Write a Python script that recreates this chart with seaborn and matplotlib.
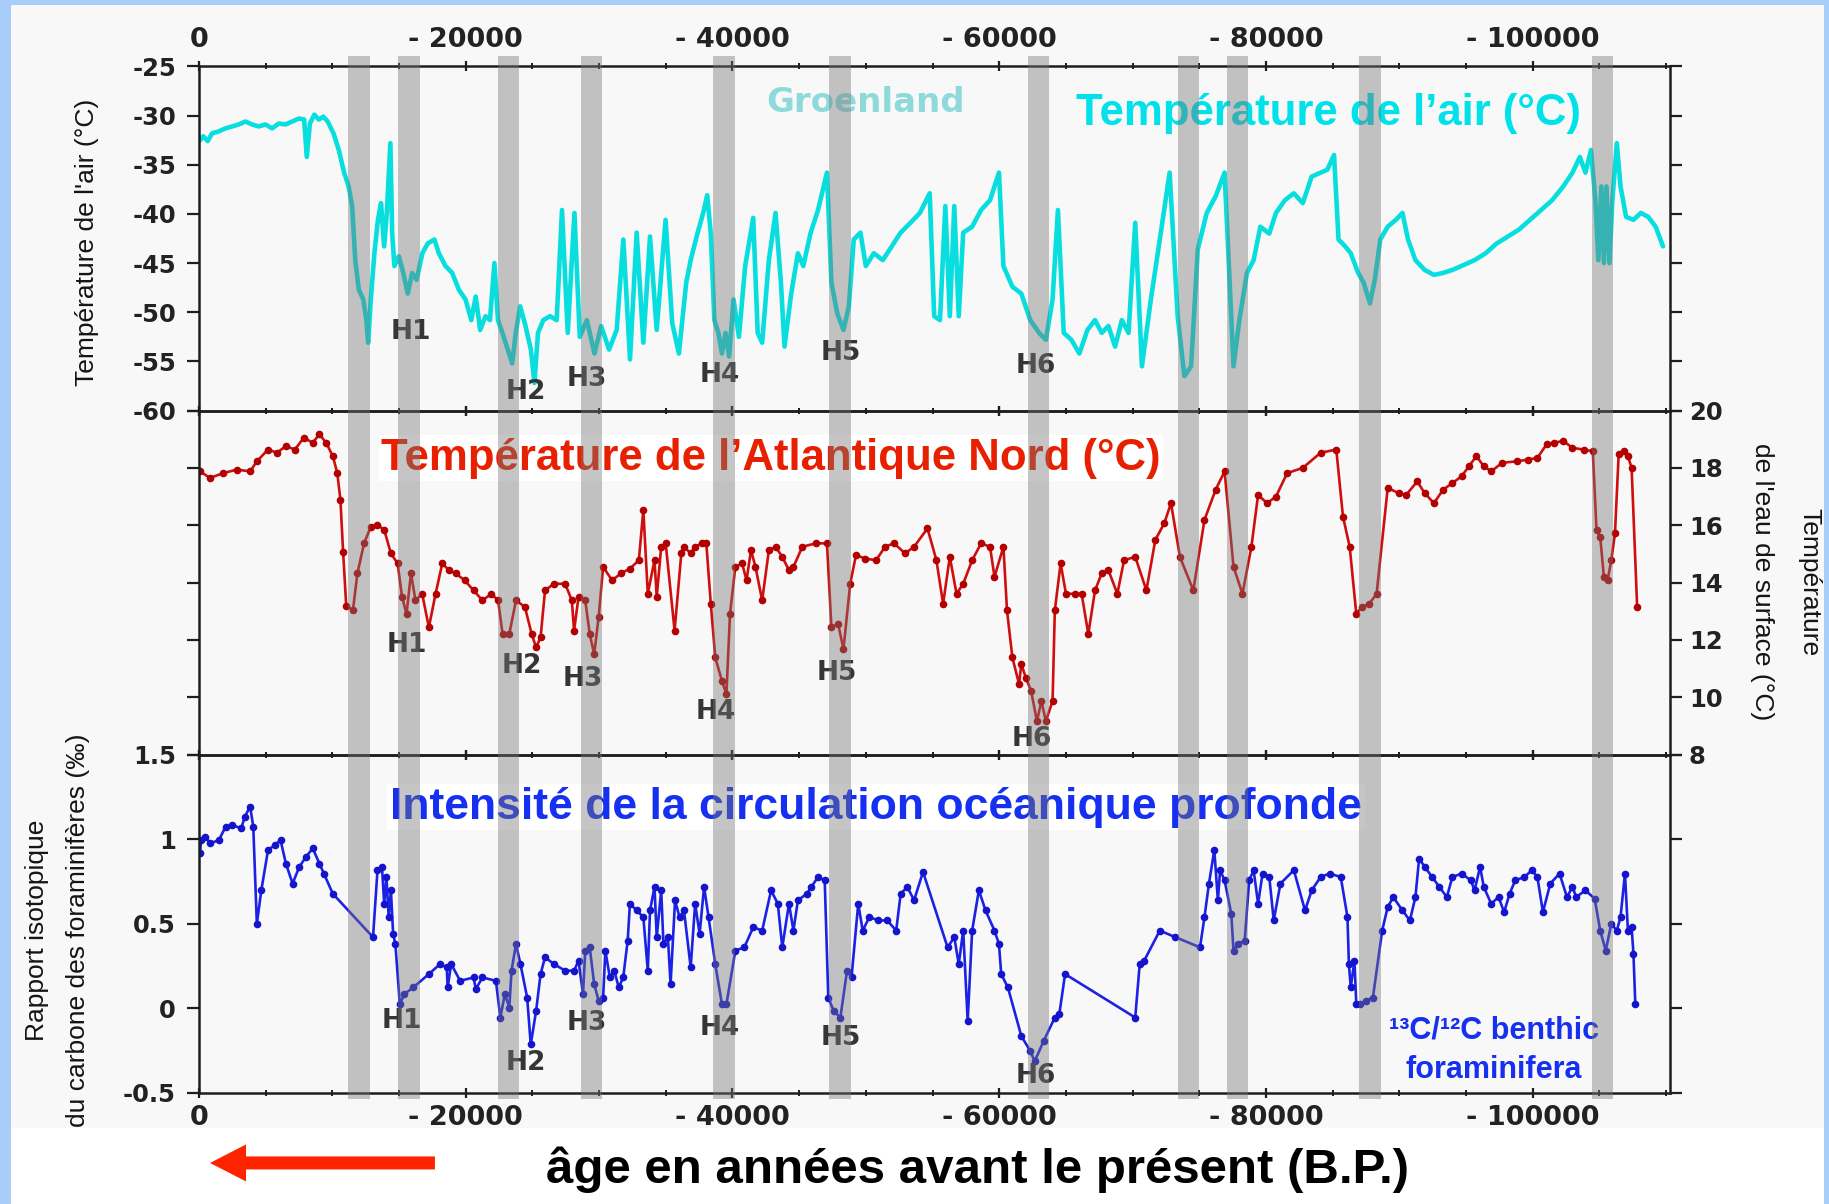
import matplotlib
matplotlib.use("Agg")
import matplotlib.pyplot as plt
import pandas as pd
import seaborn as sns
from matplotlib.patches import Rectangle, FancyArrow
from matplotlib.ticker import MultipleLocator, FuncFormatter

# ---------------------------------------------------------------- data
# Greenland air temperature (°C) vs age (years before present)
air_holocene = [
    (83, -32.5), (317, -32.1), (650, -32.6), (983, -31.8), (1483, -31.6), (1983, -31.3),
    (2483, -31.1), (2983, -30.9), (3483, -30.6), (3983, -30.9), (4483, -31.1), (4983, -30.9),
    (5483, -31.3), (5983, -30.8), (6483, -30.9), (6983, -30.6), (7483, -30.3), (7883, -30.4),
    (8083, -34.2), (8317, -30.8), (8650, -29.9), (8983, -30.4), (9317, -30.1), (9650, -30.6),
]
air_glacial_1 = [
    (10083, -31.8), (10483, -33.5), (10883, -35.8), (11217, -37.2), (11483, -39.2), (11717, -44.7),
    (11983, -47.7), (12317, -48.7), (12550, -50.8), (12683, -53.1), (12883, -48.7), (13150, -44.0),
    (13417, -40.6), (13650, -38.9), (13883, -43.3), (14083, -39.9), (14350, -32.8), (14483, -41.9),
    (14650, -45.3), (14983, -44.3), (15317, -46.0), (15650, -48.1), (15983, -46.0), (16317, -46.7),
    (16750, -44.0), (17150, -43.0), (17650, -42.6), (17983, -44.0), (18483, -45.3), (18983, -46.0),
    (19483, -47.7), (19983, -48.7), (20417, -50.8), (20750, -48.4), (21083, -51.8), (21483, -50.4),
    (21817, -50.8), (22150, -45.0), (22417, -50.8), (22750, -52.1), (23150, -53.8), (23483, -55.2),
    (23750, -52.1), (24083, -49.4), (24483, -51.4), (24883, -53.8), (25150, -57.2), (25417, -52.1),
    (25817, -50.8), (26317, -50.4), (26817, -50.8), (27217, -39.6), (27650, -52.1), (28150, -39.9),
    (28550, -52.5), (29083, -50.8), (29650, -54.2), (30150, -51.4), (30750, -53.8), (31317, -51.8),
    (31817, -42.6), (32317, -54.8), (32817, -41.9), (33317, -53.1), (33817, -42.3), (34317, -51.8),
    (34983, -40.6), (35483, -51.1), (35983, -54.2),
]
air_glacial_2 = [
    (36531, -47.0), (36866, -44.7), (37369, -42.0), (37804, -39.9), (38106, -38.1), (38374, -42.0),
    (38642, -50.8), (38943, -52.1), (39211, -54.2), (39479, -52.1), (39747, -54.5), (40082, -48.7),
    (40484, -52.5), (40953, -45.3), (41556, -40.4), (41891, -52.1), (42226, -53.1), (42729, -44.7),
    (43231, -39.9), (43633, -47.0), (43901, -53.5), (44404, -48.1), (44906, -44.0), (45308, -45.3),
    (45844, -42.0), (46414, -39.6), (47084, -35.8), (47419, -47.0), (47853, -50.1), (48323, -51.8),
    (48725, -49.4), (49094, -42.6), (49596, -41.9), (49998, -45.3), (50601, -44.0), (51271, -44.7),
    (51941, -43.3), (52611, -41.9), (53348, -40.9), (54052, -39.9), (54789, -37.9), (55124, -50.4),
    (55559, -50.8), (55961, -39.2), (56296, -50.4), (56631, -39.2), (56966, -50.4), (57301, -41.9),
    (57971, -41.3), (58641, -39.6), (59311, -38.6), (59981, -35.8), (60316, -45.3), (60986, -47.4),
    (61656, -48.1), (62326, -50.8), (62996, -52.1), (63499, -52.8), (64001, -48.7), (64403, -39.6),
    (64839, -52.1), (65408, -52.8), (66011, -54.2), (66614, -51.8), (67184, -50.8), (67686, -52.1),
    (68189, -51.4), (68691, -53.5), (69194, -50.8), (69696, -52.1), (70199, -40.9), (70701, -55.5),
    (71371, -48.7), (72041, -42.6), (72778, -35.8), (73381, -50.4), (73884, -56.5), (74386, -55.5),
    (74889, -43.6), (75559, -39.9), (76229, -38.2), (76899, -35.8), (77334, -48.7), (77569, -55.5),
    (78005, -50.8), (78574, -46.0), (79076, -44.7), (79579, -41.3), (80249, -42.0), (80751, -39.9),
    (81421, -38.6), (82091, -37.9), (82761, -38.9), (83431, -36.2), (84101, -35.8), (84604, -35.5),
    (85106, -34.0), (85441, -42.6),
]
air_glacial_3 = [
    (85942, -43.3), (86358, -44.0), (86912, -46.0), (87328, -47.0), (87799, -49.1), (88159, -46.7),
    (88575, -42.6), (89129, -41.3), (89739, -40.6), (90237, -39.9), (90653, -42.6), (91207, -44.7),
    (91900, -45.7), (92593, -46.2), (93285, -46.0), (93978, -45.7), (94809, -45.2), (95641, -44.7),
    (96472, -44.0), (97303, -43.0), (98135, -42.3), (98966, -41.6), (99797, -40.6), (100629, -39.6),
    (101460, -38.6), (102291, -37.2), (102984, -35.8), (103538, -34.2), (103954, -35.8), (104370, -33.5),
    (104702, -38.6), (104924, -44.7), (105145, -37.2), (105339, -45.0), (105533, -37.2), (105754, -45.0),
    (105976, -38.6), (106309, -32.8), (106586, -37.2), (107003, -40.3), (107557, -40.6), (108111, -39.9),
    (108665, -40.3), (109219, -41.3), (109773, -43.3),
]

# North Atlantic sea-surface temperature (°C)
sst_record = [
    (84, 17.88), (821, 17.65), (1826, 17.82), (2831, 17.94), (3836, 17.88), (4338, 18.23),
    (5176, 18.64), (5846, 18.53), (6516, 18.76), (7186, 18.64), (7856, 19.05), (8526, 18.88),
    (9029, 19.17), (9531, 18.88), (10034, 18.41), (10369, 17.82), (10603, 16.89), (10804, 15.08),
    (11038, 13.2), (11541, 13.03), (11876, 14.32), (12378, 15.37), (12881, 15.95), (13384, 16.01),
    (13886, 15.84), (14389, 15.02), (14891, 14.67), (15226, 13.5), (15561, 12.91), (15896, 14.32),
    (16231, 13.38), (16734, 13.61), (17236, 12.44), (17739, 13.61), (18241, 14.67), (18744, 14.43),
    (19246, 14.32), (19916, 14.08), (20586, 13.73), (21256, 13.38), (21926, 13.61), (22428, 13.38),
    (22763, 12.21), (23266, 12.21), (23768, 13.38), (24438, 13.15), (24941, 12.21), (25276, 11.74),
    (25611, 12.09), (25946, 13.73), (26616, 13.96), (27453, 13.96), (27956, 13.38), (28123, 12.33),
    (28458, 13.5), (28961, 13.38), (29296, 12.21), (29631, 11.51), (29966, 12.8), (30301, 14.55),
    (30971, 14.08), (31641, 14.32), (32311, 14.49), (32981, 14.78), (33316, 16.54), (33651, 13.61),
    (34154, 14.78), (34321, 13.5), (34656, 15.25), (34991, 15.37), (35661, 12.33), (36164, 15.02),
    (36364, 15.25), (36866, 15.02), (37201, 15.25), (37704, 15.37), (38039, 15.37), (38374, 13.26),
    (38709, 11.39), (39211, 10.57), (39546, 10.11), (39814, 12.91), (40216, 14.55), (40719, 14.67),
    (41054, 14.08), (41389, 15.13), (41724, 14.55), (42226, 13.38), (42729, 15.13), (43231, 15.25),
    (43734, 14.9), (44236, 14.43), (44571, 14.55), (45241, 15.25), (46246, 15.37), (47084, 15.37),
    (47419, 12.44), (47921, 12.56), (48323, 11.68), (48826, 13.96), (49261, 14.96), (49931, 14.84),
    (50769, 14.78), (51439, 15.25), (52109, 15.37), (52946, 15.02), (53616, 15.25), (54621, 15.89),
    (55291, 14.78), (55794, 13.26), (56296, 14.9), (56799, 13.61), (57301, 13.96), (57971, 14.78),
    (58641, 15.37), (59311, 15.25), (59646, 14.2), (60316, 15.25), (60584, 13.03), (60986, 11.39),
    (61489, 10.46), (61656, 11.16), (61991, 10.69), (62393, 10.22), (62829, 9.17), (63164, 9.87),
    (63499, 9.17), (64001, 9.87), (64169, 13.03), (64604, 14.67), (65006, 13.61), (65676, 13.61),
    (66179, 13.61), (66681, 12.21), (67184, 13.73), (67686, 14.32), (68189, 14.43), (68859, 13.61),
    (69361, 14.78), (70199, 14.9), (71036, 13.73), (71706, 15.49), (72376, 16.07), (72879, 16.77),
    (73549, 14.9), (74554, 13.73), (75391, 16.19), (76229, 17.24), (76899, 17.88), (77569, 14.55),
    (78239, 13.61), (78909, 15.25), (79411, 17.06), (80081, 16.77), (80751, 17.0), (81589, 17.82),
    (82761, 18.0), (84101, 18.53), (85274, 18.64), (85776, 16.3), (86279, 15.25), (86773, 12.91),
    (87189, 13.15), (87743, 13.26), (88297, 13.61), (89129, 17.3), (89960, 17.12), (90514, 17.06),
    (91346, 17.53), (91900, 17.12), (92593, 16.77), (93285, 17.24), (93978, 17.47), (94671, 17.71),
    (95225, 18.06), (95779, 18.41), (96333, 18.06), (96888, 17.88), (97719, 18.18), (98827, 18.23),
    (99659, 18.29), (100351, 18.35), (101044, 18.82), (101598, 18.88), (102291, 18.94), (102984, 18.7),
    (103815, 18.64), (104508, 18.58), (104785, 15.84), (105062, 15.6), (105339, 14.2), (105616, 14.08),
    (105893, 14.78), (106170, 15.72), (106447, 18.47), (106863, 18.58), (107140, 18.41), (107417, 18.0),
    (107833, 13.15),
]

# Benthic foraminifera 13C/12C (per mil)
d13c_record = [
    (84, 0.916), (151, 0.995), (486, 1.015), (821, 0.975), (1491, 0.995), (1993, 1.074),
    (2496, 1.084), (3166, 1.064), (3434, 1.134), (3836, 1.193), (4070, 1.074), (4338, 0.5),
    (4673, 0.698), (5176, 0.936), (5678, 0.965), (6114, 0.995), (6516, 0.856), (7018, 0.738),
    (7521, 0.837), (8023, 0.896), (8526, 0.946), (9029, 0.856), (9364, 0.797), (10034, 0.678),
    (13048, 0.421), (13384, 0.817), (13719, 0.837), (13886, 0.619), (14053, 0.777), (14221, 0.54),
    (14389, 0.698), (14556, 0.44), (14723, 0.381), (15058, 0.025), (15393, 0.084), (16063, 0.124),
    (17236, 0.203), (18073, 0.262), (18576, 0.243), (18643, 0.124), (18911, 0.262), (19581, 0.163),
    (20586, 0.183), (20753, 0.114), (21256, 0.183), (22261, 0.163), (22596, -0.054), (22931, 0.084),
    (23266, 0.005), (23434, 0.223), (23768, 0.381), (24103, 0.262), (24606, 0.064), (24874, -0.213),
    (25276, -0.015), (25611, 0.203), (25946, 0.302), (26616, 0.262), (27453, 0.223), (28123, 0.223),
    (28458, 0.282), (28793, 0.084), (28961, 0.342), (29296, 0.361), (29631, 0.144), (29966, 0.045),
    (30301, 0.064), (30468, 0.342), (30803, 0.183), (31138, 0.223), (31473, 0.124), (31808, 0.183),
    (32143, 0.401), (32311, 0.619), (32813, 0.579), (33316, 0.54), (33651, 0.223), (33818, 0.579),
    (34154, 0.718), (34321, 0.421), (34656, 0.698), (34824, 0.381), (35159, 0.421), (35359, 0.144),
    (35694, 0.639), (36029, 0.54), (36364, 0.579), (36866, 0.243), (37201, 0.619), (37536, 0.441),
    (37871, 0.718), (38206, 0.54), (38709, 0.262), (39211, 0.025), (39546, 0.025), (40216, 0.342),
    (40886, 0.361), (41556, 0.48), (42226, 0.46), (42896, 0.698), (43399, 0.619), (43734, 0.361),
    (44236, 0.619), (44571, 0.46), (44906, 0.639), (45576, 0.678), (45911, 0.718), (46414, 0.777),
    (46916, 0.757), (47184, 0.064), (47586, -0.015), (48089, -0.054), (48591, 0.223), (48926, 0.183),
    (49429, 0.619), (49764, 0.46), (50266, 0.54), (50936, 0.52), (51606, 0.52), (52276, 0.46),
    (52611, 0.678), (53114, 0.718), (53616, 0.639), (54286, 0.807), (56129, 0.361), (56631, 0.421),
    (56966, 0.262), (57301, 0.46), (57636, -0.074), (57971, 0.46), (58474, 0.698), (58976, 0.579),
    (59646, 0.46), (59981, 0.381), (60149, 0.203), (60651, 0.124), (61656, -0.163), (62326, -0.252),
    (62661, -0.312), (63331, -0.193), (64169, -0.054), (64504, -0.035), (64939, 0.203), (70199, -0.054),
    (70534, 0.262), (70869, 0.282), (72041, 0.46), (73214, 0.421), (75056, 0.361), (75391, 0.54),
    (75726, 0.738), (76128, 0.936), (76396, 0.639), (76564, 0.817), (76899, 0.757), (77401, 0.559),
    (77569, 0.342), (77904, 0.381), (78406, 0.401), (78741, 0.757), (79076, 0.817), (79411, 0.619),
    (79746, 0.797), (80249, 0.777), (80584, 0.52), (81086, 0.738), (82091, 0.817), (82929, 0.579),
    (83431, 0.698), (84101, 0.777), (84771, 0.797), (85609, 0.777), (86111, 0.54), (86219, 0.262),
    (86358, 0.124), (86635, 0.282), (86773, 0.025), (87050, 0.025), (87466, 0.045), (88020, 0.064),
    (88713, 0.46), (89129, 0.599), (89544, 0.658), (90237, 0.579), (90791, 0.52), (91207, 0.658),
    (91484, 0.886), (91900, 0.837), (92454, 0.777), (93008, 0.718), (93562, 0.658), (93978, 0.777),
    (94671, 0.797), (95364, 0.757), (95641, 0.698), (96056, 0.837), (96333, 0.718), (96888, 0.619),
    (97442, 0.658), (97857, 0.569), (98273, 0.678), (98689, 0.757), (99381, 0.777), (99936, 0.817),
    (100351, 0.777), (100767, 0.569), (101321, 0.738), (102014, 0.797), (102568, 0.658), (102984, 0.718),
    (103261, 0.658), (103954, 0.698), (104646, 0.649), (105062, 0.46), (105478, 0.342), (105893, 0.5),
    (106309, 0.46), (106586, 0.54), (106919, 0.797), (107140, 0.46), (107417, 0.48), (107556, 0.322),
    (107694, 0.025),
]

# Cold events (centre of each shaded band, years BP)
cold_events = [12010, 15730, 23200, 29430, 39345, 48055, 62960, 74185, 77870, 87810, 105230]
heinrich_names = ["H1", "H2", "H3", "H4", "H5", "H6"]

x_ticks = [0, 20000, 40000, 60000, 80000, 100000]
air_ticks = [-60, -55, -50, -45, -40, -35, -30, -25]
sst_ticks = [8, 10, 12, 14, 16, 18, 20]
d13c_ticks = [-0.5, 0, 0.5, 1, 1.5]

air_df = pd.DataFrame(air_holocene + air_glacial_1 + air_glacial_2 + air_glacial_3, columns=["age", "temp"])
sst_df = pd.DataFrame(sst_record, columns=["age", "sst"])
d13c_df = pd.DataFrame(d13c_record, columns=["age", "d13c"])

# ---------------------------------------------------------------- style
sns.set_theme(style="white")
plt.rcParams["font.family"] = ["DejaVu Sans"]
plt.rcParams["axes.unicode_minus"] = False

XMAX = 110300
AIR_C = "#08dede"
SST_C = "#cf0e0e"
D13_C = "#1c22e4"
LABEL_FAM = ["Liberation Sans Narrow", "Liberation Sans", "DejaVu Sans"]
TITLE_FAM = ["Liberation Sans", "DejaVu Sans"]

fig = plt.figure(figsize=(18.29, 12.04), dpi=100, facecolor="#a7cdf8")
fig.add_artist(Rectangle((0.006, 0.0631), 0.9913, 0.9327, transform=fig.transFigure,
                         facecolor="#f8f8f8", edgecolor="none", zorder=-10))
fig.add_artist(Rectangle((0.006, 0.0), 0.9913, 0.0631, transform=fig.transFigure,
                         facecolor="white", edgecolor="none", zorder=-10))

L, W = 0.1088, 0.8043
ax_t = fig.add_axes([L, 0.659, W, 0.2858])
ax_m = fig.add_axes([L, 0.3732, W, 0.2858])
ax_b = fig.add_axes([L, 0.0922, W, 0.2810])

sns.lineplot(data=air_df, x="age", y="temp", ax=ax_t, color=AIR_C, lw=3.3,
             estimator=None, sort=False)
sns.lineplot(data=sst_df, x="age", y="sst", ax=ax_m, color=SST_C, lw=1.9,
             marker="o", markersize=5.5, markeredgewidth=0, markerfacecolor="#b30000",
             estimator=None, sort=False)
sns.lineplot(data=d13c_df, x="age", y="d13c", ax=ax_b, color=D13_C, lw=1.9,
             marker="o", markersize=5.5, markeredgewidth=0, markerfacecolor="#1414cc",
             estimator=None, sort=False)

ax_t.set_ylim(-60, -25)
ax_m.set_ylim(8, 20)
ax_b.set_ylim(-0.5, 1.5)


def age_label(v, _pos):
    v = int(round(v))
    return "0" if v == 0 else f"- {v}"


for ax in (ax_t, ax_m, ax_b):
    ax.set_facecolor("none")
    ax.set_xlim(0, XMAX)
    ax.set_xlabel("")
    ax.set_ylabel("")
    ax.grid(False)
    for s in ax.spines.values():
        s.set_color("#1e1e1e")
        s.set_linewidth(1.8)
    ax.set_xticks(x_ticks)
    ax.xaxis.set_minor_locator(MultipleLocator(5000))
    ax.xaxis.set_major_formatter(FuncFormatter(age_label))
    ax.tick_params(axis="x", which="major", direction="inout", length=7, width=1.6,
                   color="#1e1e1e", top=True, bottom=True, labelbottom=False, labeltop=False,
                   labelsize=19.5, pad=6)
    ax.tick_params(axis="x", which="minor", direction="inout", length=4.5, width=1.4,
                   color="#1e1e1e", top=True, bottom=True)
    ax.tick_params(axis="y", which="major", direction="out", length=8.5, width=1.6,
                   color="#1e1e1e", left=True, right=True, labelsize=17.5, pad=8)

ax_t.set_yticks(air_ticks)
ax_t.tick_params(axis="x", labeltop=True)
ax_m.set_yticks(sst_ticks)
ax_m.tick_params(axis="y", labelleft=False, labelright=True, pad=5)
ax_b.set_yticks(d13c_ticks)
ax_b.set_yticklabels([f"{v:g}" for v in d13c_ticks])
ax_b.tick_params(axis="x", labelbottom=True, pad=5)

for ax in (ax_t, ax_m, ax_b):
    for lab in ax.get_xticklabels() + ax.get_yticklabels():
        lab.set_fontfamily("DejaVu Sans")
        lab.set_fontweight("bold")
        lab.set_color("#222222")

# Heinrich event labels in each panel
h_ages = [15900, 24470, 29100, 39080, 48100, 62710]
h_air = [-52.05, -58.1, -56.8, -56.4, -54.1, -55.5]
h_sst = [11.82, 11.09, 10.64, 9.5, 10.85, 8.53]
h_d13 = [-0.072, -0.321, -0.086, -0.114, -0.176, -0.397]
for name, a, ya, ys, yd in zip(heinrich_names, h_ages, h_air, h_sst, h_d13):
    for ax, yy, dx in ((ax_t, ya, 0), (ax_m, ys, -300), (ax_b, yd, -700 if name == "H1" else 0)):
        ax.text(a + dx, yy, name, ha="center", va="center", fontsize=19,
                fontweight="bold", color="#353535", family="DejaVu Sans", zorder=4)

# shaded cold-event bands laid over all three panels
ax_bars = fig.add_axes([L, 0.0872, W, 0.9535 - 0.0872], zorder=5)
ax_bars.set_xlim(0, XMAX)
ax_bars.set_ylim(0, 1)
ax_bars.axis("off")
for c in cold_events:
    ax_bars.axvspan(c - 810, c + 810, color="#767676", alpha=0.42, lw=0)

# panel titles
fig.text(0.4735, 0.9145, "Groenland", ha="center", va="center", fontsize=24.5,
         fontweight="bold", color="#8edada", family="DejaVu Sans")
fig.text(0.7261, 0.9061, "Température de l’air (°C)", ha="center", va="center",
         fontsize=31.5, fontweight="bold", color="#00e2ea", family=TITLE_FAM)
fig.text(0.4215, 0.6196, "Température de l’Atlantique Nord (°C)", ha="center", va="center",
         fontsize=31.5, fontweight="bold", color="#e62000", family=TITLE_FAM,
         bbox=dict(facecolor="white", edgecolor="none", pad=2))
fig.text(0.479, 0.3297, "Intensité de la circulation océanique profonde", ha="center",
         va="center", fontsize=32, fontweight="bold", color="#1530f0", family=TITLE_FAM,
         bbox=dict(facecolor="white", edgecolor="none", pad=2))
fig.text(0.8169, 0.1437, "¹³C/¹²C benthic", ha="center", va="center", fontsize=22,
         fontweight="bold", color="#1530f0", family=TITLE_FAM)
fig.text(0.8169, 0.1113, "foraminifera", ha="center", va="center", fontsize=22,
         fontweight="bold", color="#1530f0", family=TITLE_FAM)

# axis titles
fig.text(0.0476, 0.799, "Température de l'air (°C)", rotation=90, ha="center", va="center",
         fontsize=19, color="#141414", family=LABEL_FAM)
fig.text(0.0205, 0.2276, "Rapport isotopique", rotation=90, ha="center", va="center",
         fontsize=19, color="#141414", family=LABEL_FAM)
fig.text(0.0425, 0.2276, "du carbone des foraminifères (‰)", rotation=90, ha="center",
         va="center", fontsize=19, color="#141414", family=LABEL_FAM)
fig.text(0.9895, 0.5166, "Température", rotation=270, ha="center", va="center",
         fontsize=19, color="#141414", family=LABEL_FAM)
fig.text(0.9634, 0.5166, "de l'eau de surface (°C)", rotation=270, ha="center", va="center",
         fontsize=19, color="#141414", family=LABEL_FAM)

# time axis caption with arrow pointing to the present
fig.text(0.5347, 0.0282, "âge en années avant le présent (B.P.)", ha="center", va="center",
         fontsize=35.5, fontweight="bold", color="black", family=TITLE_FAM)
fig.add_artist(FancyArrow(0.2378, 0.0341, -0.123, 0.0, width=0.0108, head_width=0.0307,
                          head_length=0.0197, length_includes_head=True,
                          transform=fig.transFigure, color="#ff2400", lw=0))

fig.savefig("out.png", dpi=100, facecolor=fig.get_facecolor())
